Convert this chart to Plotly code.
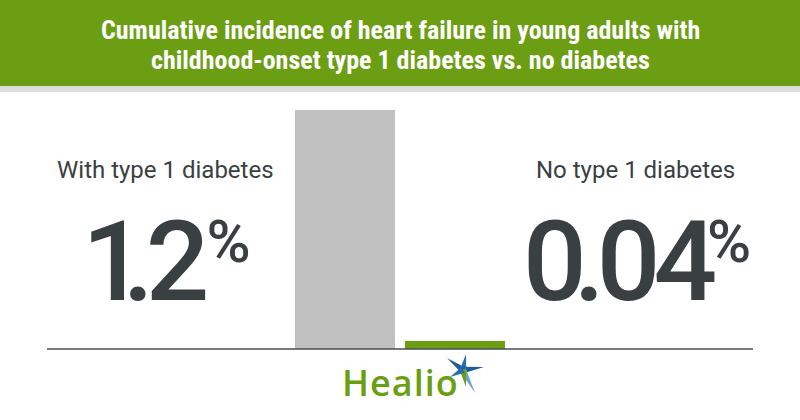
import plotly.graph_objects as go

# ---- data ----
categories = ["With type 1 diabetes", "No type 1 diabetes"]
incidence = [1.2, 0.04]
value_labels = ["1.2", "0.04"]
bar_colors = ["#c0c0c0", "#6b9e12"]
title_lines = ["Cumulative incidence of heart failure in young adults with",
               "childhood-onset type 1 diabetes vs. no diabetes"]

W, H = 800, 420
GREEN = "#6b9e12"
DARK = "#3a3f42"


def px(x):
    return x / W


def py(y):
    return 1 - y / H


fig = go.Figure()
fig.add_trace(go.Bar(
    x=categories, y=incidence, marker=dict(color=bar_colors, line=dict(width=0)),
    width=0.909, hoverinfo="skip", showlegend=False))

shapes = [
    # header band
    dict(type="rect", xref="paper", yref="paper", x0=0, x1=1, y0=py(86), y1=1,
         fillcolor=GREEN, line=dict(width=0), layer="below"),
    dict(type="rect", xref="paper", yref="paper", x0=0, x1=1, y0=py(92), y1=py(86),
         fillcolor="#dcdcdc", line=dict(width=0), layer="below"),
    # baseline
    dict(type="line", xref="paper", yref="y", x0=px(47), x1=px(753), y0=0, y1=0,
         line=dict(color="#4d4d4d", width=1.6), layer="above"),
]


def path(pts):
    return "M " + " L ".join(f"{px(a):.5f},{py(b):.5f}" for a, b in pts) + " Z"


# Healio star (logo mark)
cx, cy = 463, 370
arms = [
    ((447, 358), "#1f5c9a"),   # upper-left
    ((466, 354), "#2a6db0"),   # top
    ((484, 367), "#1f5c9a"),   # right
    ((475, 393), "#6aa6d8"),   # lower-right
    ((466, 387), GREEN),       # lower (green)
    ((450, 377), "#2a6db0"),   # left
]
for (ax, ay), col in arms:
    dx, dy = ax - cx, ay - cy
    n = (dx * dx + dy * dy) ** 0.5
    ox, oy = -dy / n * 3.2, dx / n * 3.2
    shapes.append(dict(type="path", xref="paper", yref="paper",
                       path=path([(cx + ox, cy + oy), (ax, ay), (cx - ox, cy - oy)]),
                       fillcolor=col, line=dict(width=0)))


def value_text(label, gaps):
    """Tightly kerned number followed by a raised, smaller percent sign."""
    out = ""
    for ch, g in zip(label, gaps):
        out += f'<span style="letter-spacing:{g}px">{ch}</span>'
    return out + '<span style="font-size:60px;baseline-shift:38px">%</span>'


annotations = []
# title
for i, line in enumerate(title_lines):
    annotations.append(dict(
        text=f"<b>{line}</b>", xref="paper", yref="paper", x=0.5, y=py(30 + 30 * i),
        xanchor="center", yanchor="middle", showarrow=False,
        font=dict(family="Roboto Condensed, Roboto", size=26, color="white")))

# category labels and values
label_cx = [165, 635]
num_anchor = [253, 753]
num_gaps = [[-23, -8, -3], [-13, -8, -7, -10]]
for i, cat in enumerate(categories):
    annotations.append(dict(
        text=cat, xref="paper", yref="paper", x=px(label_cx[i]), y=py(170),
        xanchor="center", yanchor="middle", showarrow=False,
        font=dict(family="Roboto", size=24, color=DARK, weight=400)))
    annotations.append(dict(
        text=value_text(value_labels[i], num_gaps[i]),
        xref="paper", yref="paper", x=px(num_anchor[i]), y=py(261),
        xanchor="right", yanchor="middle", showarrow=False,
        font=dict(family="Roboto", size=112, color=DARK, weight=500)))

annotations.append(dict(
    text='<span style="letter-spacing:1px">Healio</span>', xref="paper", yref="paper",
    x=px(340), y=py(382), xanchor="left", yanchor="middle", showarrow=False,
    font=dict(family="Open Sans, Lato, Roboto", size=36, color=GREEN, weight=600)))

fig.update_layout(
    width=W, height=H, margin=dict(l=0, r=0, t=0, b=0),
    paper_bgcolor="white", plot_bgcolor="white",
    xaxis=dict(type="category", range=[-3.1364, 4.1364], visible=False, fixedrange=True),
    yaxis=dict(range=[-71 / 199.2, 349 / 199.2], visible=False, fixedrange=True),
    shapes=shapes, annotations=annotations, bargap=0,
)

fig.write_html("out.html", config={"displayModeBar": False},
               post_script="document.body.style.margin='0';")
